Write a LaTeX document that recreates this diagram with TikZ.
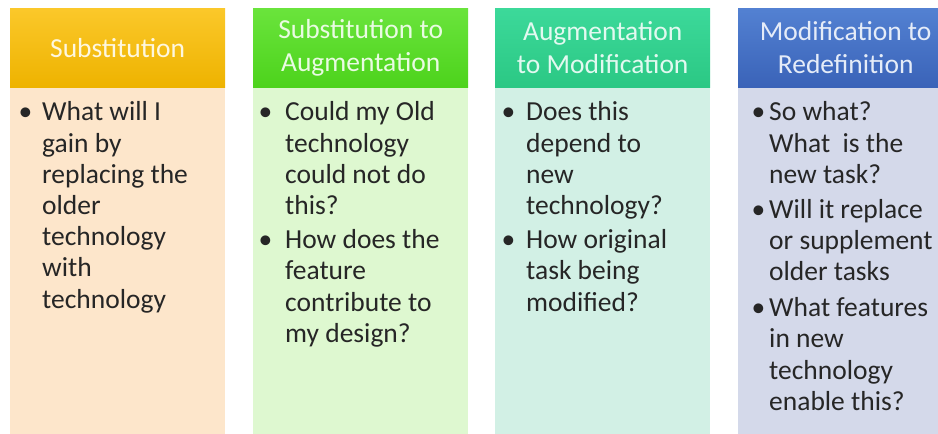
\documentclass[tikz,border=0pt]{standalone}
\usepackage{fontspec}
\setmainfont{Carlito}
% header and panel colours
\definecolor{hdrAtop}{HTML}{FBC82A}\definecolor{hdrAbot}{HTML}{EEB300}
\definecolor{hdrBtop}{HTML}{6AE43C}\definecolor{hdrBbot}{HTML}{4DD31C}
\definecolor{hdrCtop}{HTML}{3CD99A}\definecolor{hdrCbot}{HTML}{2BC884}
\definecolor{hdrDtop}{HTML}{5381D2}\definecolor{hdrDbot}{HTML}{3A63B8}
\definecolor{panA}{HTML}{FDE6CB}
\definecolor{panB}{HTML}{DEF8D0}
\definecolor{panC}{HTML}{D2F0E5}
\definecolor{panD}{HTML}{D4D9EA}
\definecolor{textgray}{HTML}{262626}
% bullet hung to the left of a line, #1 = gap to the text
\newcommand{\qb}[1][10pt]{\llap{\textbullet\hspace{#1}}}
\begin{document}
\begin{tikzpicture}[x=1pt,y=1pt,
  hdr/.style={minimum width=215pt, minimum height=79pt, inner sep=0pt,
    anchor=north west, align=center, shading=axis, shading angle=0,
    font=\fontsize{27.5}{33}\selectfont},
  panel/.style={minimum width=215pt, minimum height=360pt, inner sep=0pt,
    anchor=north west},
  qtext/.style={anchor=base west, inner sep=0pt, text=textgray,
    font=\fontsize{27.5}{31.2}\selectfont}]
\useasboundingbox (0,0) rectangle (938,434);
\clip (0,0) rectangle (938,434);

% column panels
\node[panel, fill=panA] (pa) at (10,347) {};
\node[panel, fill=panB] (pb) at (253,347) {};
\node[panel, fill=panC] (pc) at (495,347) {};
\node[panel, fill=panD] (pd) at (738,347) {};

% column headers
\node[hdr, top color=hdrAtop, bottom color=hdrAbot, text=white!85!hdrAtop] (ha) at (10,426) {Substitution};
\node[hdr, top color=hdrBtop, bottom color=hdrBbot, text=white!85!hdrBtop] (hb) at (253,426) {Substitution to\\Augmentation};
\node[hdr, top color=hdrCtop, bottom color=hdrCbot, text=white!85!hdrCtop] (hc) at (495,426) {Augmentation\\to Modification};
\node[hdr, top color=hdrDtop, bottom color=hdrDbot, text=white!85!hdrDtop] (hd) at (738,426) {Modification to\\Redefinition};

% question lists
\node[qtext] (qa) at (42,313) {\begin{tabular}[t]{@{}l@{}}
\qb[10pt]What will I\\
gain by\\
replacing the\\
older\\
technology\\
with\\
technology
\end{tabular}};

\node[qtext] (qb) at (285,313) {\begin{tabular}[t]{@{}l@{}}
\qb[13pt]Could my Old\\
technology\\
could not do\\
this?\\[3pt]
\qb[13pt]How does the\\
feature\\
contribute to\\
my design?
\end{tabular}};

\node[qtext] (qc) at (526,313) {\begin{tabular}[t]{@{}l@{}}
\qb[11pt]Does this\\
depend to\\
new\\
technology?\\[3pt]
\qb[11pt]How original\\
task being\\
modified?
\end{tabular}};

\node[qtext] (qd) at (769,313) {\begin{tabular}[t]{@{}l@{}}
\qb[4pt]So what?\\
What\ \ is the\\
new task?\\[4pt]
\qb[4pt]Will it replace\\
or supplement\\
older tasks\\[4.5pt]
\qb[4pt]What features\\
in new\\
technology\\
enable this?
\end{tabular}};
\end{tikzpicture}
\end{document}
